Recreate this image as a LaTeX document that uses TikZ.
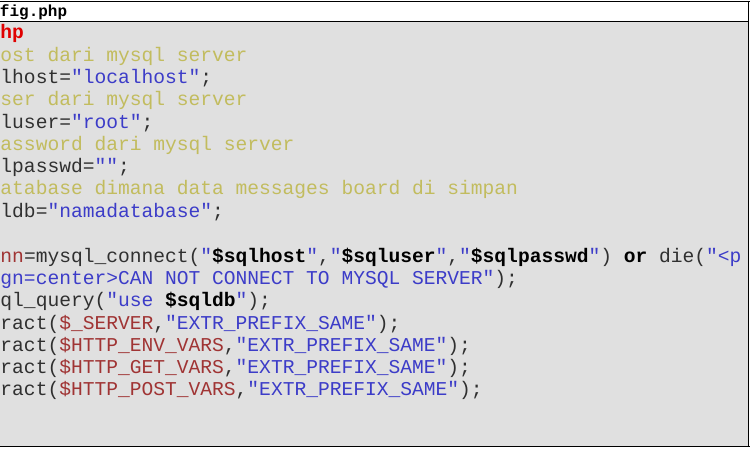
\documentclass[tikz,border=0pt]{standalone}
\usepackage{fontspec}
\newfontfamily\codefont{Liberation Mono}
\definecolor{cmt}{HTML}{C2BC5E}
\definecolor{str}{HTML}{3C3CC8}
\definecolor{kw}{HTML}{E00000}
\definecolor{var}{HTML}{A03434}
\definecolor{txt}{HTML}{303030}
\definecolor{bg}{HTML}{E0E0E0}
\newcommand{\cm}[1]{\textcolor{cmt}{#1}}
\newcommand{\st}[1]{\textcolor{str}{#1}}
\newcommand{\vr}[1]{\textcolor{var}{#1}}
\tikzset{codeline/.style={anchor=west,inner sep=0pt,text=txt,font=\codefont\fontsize{19.6}{22}\selectfont}}

\begin{document}
\begin{tikzpicture}[x=1pt,y=-1pt]
\useasboundingbox (0,0) rectangle (750,450);
\begin{scope}
\clip (0,0) rectangle (750,450);
\path [fill=bg] (0,21) rectangle (748,446);
\draw [line width=1.5pt] (0,1.5) -- (750,1.5);
\draw [line width=1pt] (0,21) -- (748,21);
\draw [line width=1pt] (0,446) -- (750,446);
\draw [line width=1pt] (748,1.5) -- (748,446);
\node (title) [codeline,font=\codefont\bfseries\fontsize{16}{18}\selectfont,text=black] at (-29,12) {config.php};
\node (l1) [codeline] at (-35,33) {\textcolor{kw}{\textbf{<?php}}};
\node (l2) [codeline] at (-35,56) {\cm{//host dari mysql server}};
\node (l3) [codeline] at (-35,78) {\$sqlhost=\st{"localhost"};};
\node (l4) [codeline] at (-35,100) {\cm{//user dari mysql server}};
\node (l5) [codeline] at (-35,123) {\$sqluser=\st{"root"};};
\node (l6) [codeline] at (-35,145) {\cm{//password dari mysql server}};
\node (l7) [codeline] at (-35,167) {\$sqlpasswd=\st{""};};
\node (l8) [codeline] at (-35,189) {\cm{//database dimana data messages board di simpan}};
\node (l9) [codeline] at (-35,212) {\$sqldb=\st{"namadatabase"};};
\node (l10) [codeline] at (-35,257) {\vr{\$conn}=mysql\_connect(\st{"\textbf{\textcolor{black}{\$sqlhost}}"},\st{"\textbf{\textcolor{black}{\$sqluser}}"},\st{"\textbf{\textcolor{black}{\$sqlpasswd}}"}) \textbf{\textcolor{black}{or}} die(\st{"<p}};
\node (l11) [codeline] at (-35,279) {\st{align=center>CAN NOT CONNECT TO MYSQL SERVER"});};
\node (l12) [codeline] at (-35,301) {mysql\_query(\st{"use \textbf{\textcolor{black}{\$sqldb}}"});};
\node (l13) [codeline] at (-35,324) {extract(\vr{\$\_SERVER},\st{"EXTR\_PREFIX\_SAME"});};
\node (l14) [codeline] at (-35,346) {extract(\vr{\$HTTP\_ENV\_VARS},\st{"EXTR\_PREFIX\_SAME"});};
\node (l15) [codeline] at (-35,368) {extract(\vr{\$HTTP\_GET\_VARS},\st{"EXTR\_PREFIX\_SAME"});};
\node (l16) [codeline] at (-35,390) {extract(\vr{\$HTTP\_POST\_VARS},\st{"EXTR\_PREFIX\_SAME"});};
\end{scope}
\end{tikzpicture}
\end{document}
